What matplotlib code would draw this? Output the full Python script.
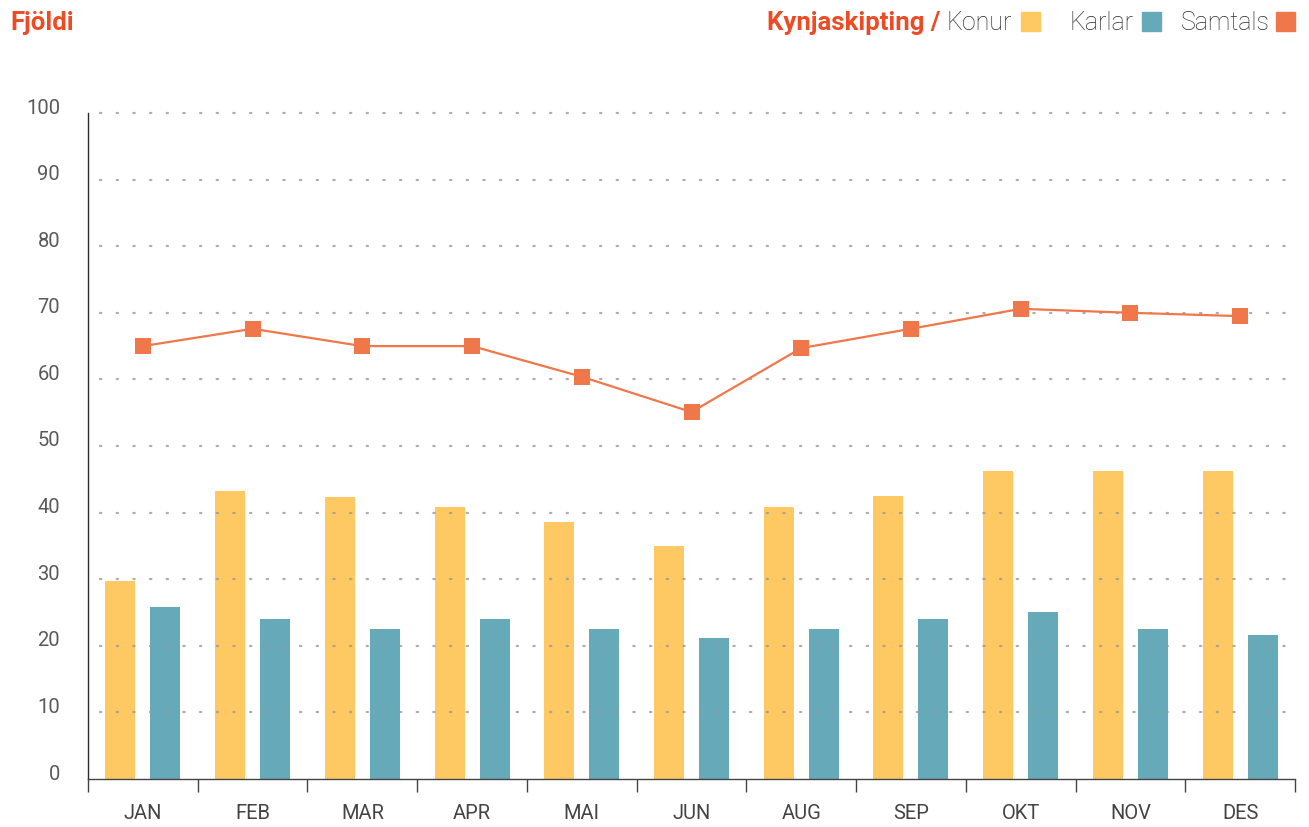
import numpy as np
import matplotlib
matplotlib.use("Agg")
import matplotlib.pyplot as plt
from matplotlib.patches import Rectangle
from matplotlib.transforms import ScaledTranslation

plt.rcParams['font.family'] = ['Roboto', 'DejaVu Sans']

# Gögn
manudir = ['JAN', 'FEB', 'MAR', 'APR', 'MAI', 'JUN', 'AUG', 'SEP', 'OKT', 'NOV', 'DES']
konur = [29.7, 43.2, 42.3, 40.8, 38.6, 35.0, 40.8, 42.5, 46.2, 46.2, 46.2]
karlar = [25.8, 24.0, 22.5, 24.0, 22.5, 21.2, 22.5, 24.0, 25.1, 22.5, 21.6]
samtals = [65.0, 67.6, 65.0, 65.0, 60.4, 55.1, 64.7, 67.6, 70.6, 70.0, 69.5]
y_ticks = [0, 10, 20, 30, 40, 50, 60, 70, 80, 90, 100]

gulur = '#FEC962'
blar = '#66A9B8'
rauður = '#F0774A'
titill_litur = '#EE4A24'
texti = '#2b2b2b'

W, H = 1309, 827
fig = plt.figure(figsize=(W / 100, H / 100), dpi=100)
ax = fig.add_axes([88 / W, 1 - 779 / H, (1295 - 88) / W, (779 - 113) / H])

x = np.arange(len(manudir))
bw = 0.273
off = 0.205
ax.bar(x - off, konur, width=bw, color=gulur, zorder=2)
ax.bar(x + off, karlar, width=bw, color=blar, zorder=2)
ax.plot(x, samtals, color=rauður, lw=1.6, marker='s', markersize=11,
        markeredgewidth=0, zorder=4)

# punktalínur
for t in y_ticks[1:]:
    ax.plot([-0.39, len(manudir) - 0.47], [t, t], color='#999999', lw=1.6,
            ls=(0, (0.6, 6.9)), dash_capstyle='round', zorder=3, alpha=0.8,
            clip_on=False)

ax.set_xlim(-0.5, len(manudir) - 0.5)
ax.set_ylim(0, 100)

for s in ['top', 'right']:
    ax.spines[s].set_visible(False)
ax.spines['left'].set_color(texti)
ax.spines['bottom'].set_color('#444444')
ax.spines['left'].set_linewidth(1.0)
ax.spines['bottom'].set_linewidth(1.0)

ax.set_xticks(x)
ax.set_xticklabels(manudir, fontsize=14.5, color='#444444')
ax.set_xticks(np.arange(-0.5, len(manudir)), minor=True)
ax.tick_params(axis='x', which='major', length=0, pad=18)
ax.tick_params(axis='x', which='minor', length=9, color='#444444', width=1.0)

ax.set_yticks(y_ticks)
ax.set_yticklabels([str(t) for t in y_ticks], fontsize=14.5, color='#5a5a5a')
ax.tick_params(axis='y', length=0, pad=20)
for lab in ax.get_yticklabels():
    lab.set_transform(lab.get_transform() + ScaledTranslation(0, 7 / 100, fig.dpi_scale_trans))

# titlar
fig.text(10 / W, 1 - 23 / H, 'Fjöldi', fontsize=18.5, fontweight='bold',
         color=titill_litur, va='center', ha='left')
fig.text(940 / W, 1 - 23 / H, 'Kynjaskipting /', fontsize=18.5, fontweight='bold',
         color=titill_litur, va='center', ha='right')

leg = [('Konur', 1012, 1021, gulur), ('Karlar', 1133, 1142, blar), ('Samtals', 1270, 1276, rauður)]
for nafn, tx, rx, c in leg:
    fig.text(tx / W, 1 - 23 / H, nafn, fontsize=18, fontweight='light',
             color=texti, va='center', ha='right')
    fig.patches.append(Rectangle((rx / W, 1 - 31 / H), 19 / W, 19 / H,
                                 transform=fig.transFigure, color=c, figure=fig))

fig.savefig('out.png', dpi=100)
